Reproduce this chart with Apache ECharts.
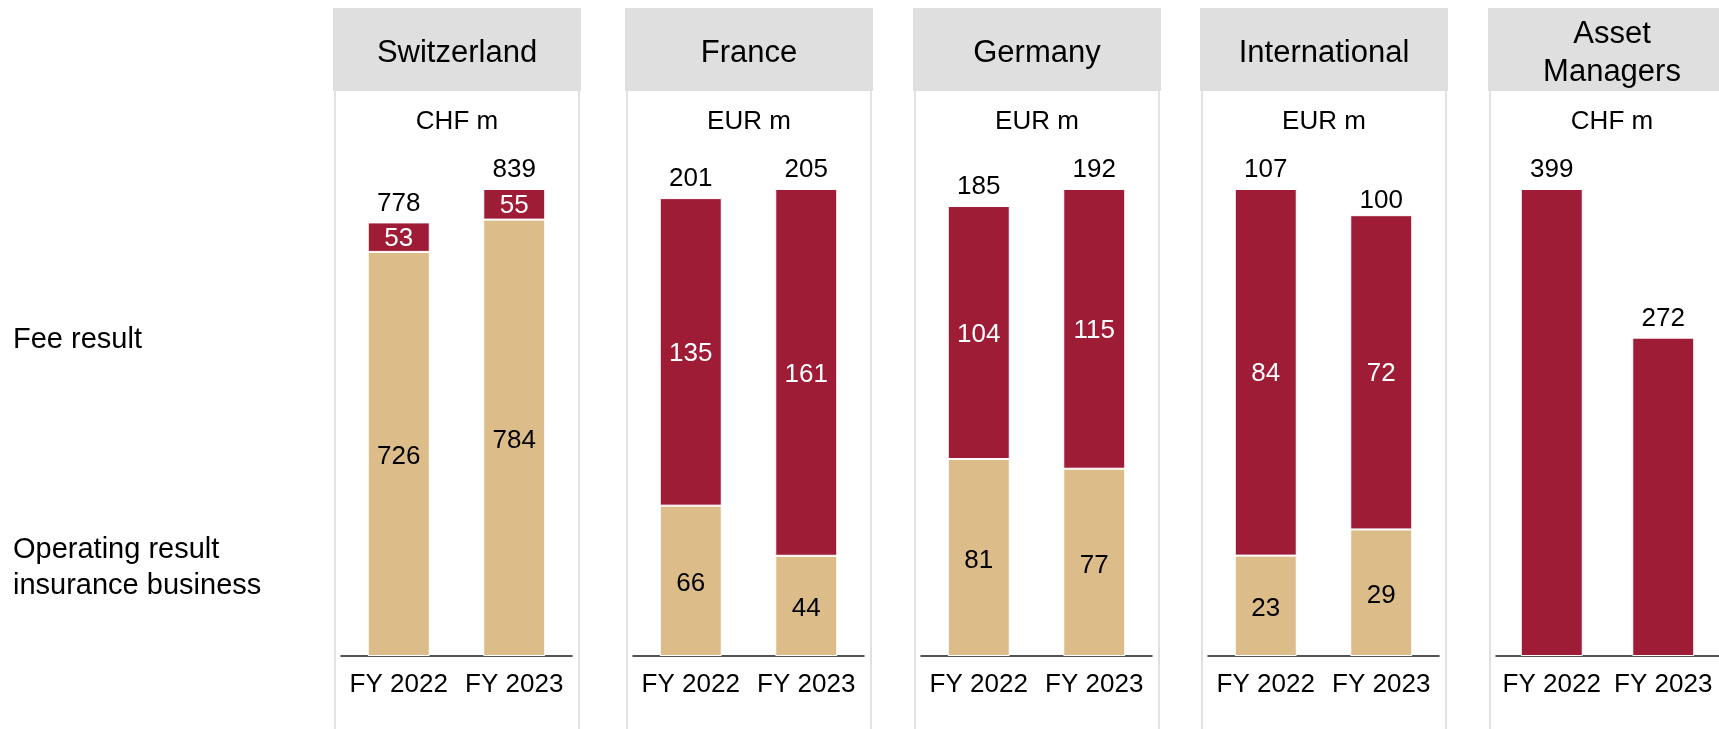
<!DOCTYPE html>
<html>
<head>
<meta charset="utf-8">
<script src="https://cdn.jsdelivr.net/npm/echarts@6/dist/echarts.min.js"></script>
<style>
  html, body { margin: 0; padding: 0; background: #ffffff; }
  #chart { width: 1719px; height: 729px; }
</style>
</head>
<body>
<div id="chart"></div>
<script>
// Segment results by business unit, FY 2022 vs FY 2023
const panels = ['Switzerland', 'France', 'Germany', 'International', 'Asset\nManagers'];
const units = ['CHF m', 'EUR m', 'EUR m', 'EUR m', 'CHF m'];
const years = ['FY 2022', 'FY 2023'];
const operatingResult = [[726, 784], [66, 44], [81, 77], [23, 29], [null, null]];
const feeResult = [[53, 55], [135, 161], [104, 115], [84, 72], [399, 272]];
const totals = [[778, 839], [201, 205], [185, 192], [107, 100], [399, 272]];
const rowLabels = ['Fee result', 'Operating result\ninsurance business'];

const FONT = '"Liberation Sans", Arial, Helvetica, sans-serif';
const RED = '#9f1c37';
const TAN = '#dcbd89';
const HEADER = '#dfdfdf';

// left edge of each panel header
const panelLeft = [333, 625, 913, 1200, 1488];
const gridTop = 189, gridBottomY = 656, plotWidth = 231;

const grids = [], xAxes = [], yAxes = [], series = [], graphics = [];

panels.forEach((name, i) => {
  const L = panelLeft[i];
  const yMax = Math.max(...totals[i]);

  // panel frame and header
  graphics.push({
    type: 'rect', z: 0,
    shape: { x: L + 2, y: 90, width: 244, height: 700 },
    style: { fill: 'none', stroke: '#e2e2e2', lineWidth: 2 }
  });
  graphics.push({
    type: 'rect', z: 1,
    shape: { x: L, y: 8, width: 248, height: 83 },
    style: { fill: HEADER }
  });
  graphics.push({
    type: 'text', z: 2, x: L + 124, y: 53,
    style: {
      text: name, font: '31px ' + FONT, fill: '#000', lineHeight: 38,
      align: 'center', verticalAlign: 'middle',
      textAlign: 'center', textVerticalAlign: 'middle'
    }
  });
  graphics.push({
    type: 'text', z: 2, x: L + 124, y: 122,
    style: {
      text: units[i], font: '26px ' + FONT, fill: '#000',
      align: 'center', verticalAlign: 'middle',
      textAlign: 'center', textVerticalAlign: 'middle'
    }
  });

  grids.push({ left: L + 8, top: gridTop, width: plotWidth, height: gridBottomY - gridTop, containLabel: false });
  xAxes.push({
    type: 'category', gridIndex: i, data: years,
    axisLine: { lineStyle: { color: '#1a1a1a', width: 1.5 } },
    axisTick: { show: false },
    axisLabel: { fontSize: 26, fontFamily: FONT, color: '#000', margin: 16, interval: 0 }
  });
  yAxes.push({
    type: 'value', gridIndex: i, min: 0, max: yMax, show: false,
    splitLine: { show: false }
  });

  const common = {
    type: 'bar', xAxisIndex: i, yAxisIndex: i, barWidth: 62, barGap: '-100%',
    animation: false
  };
  series.push(Object.assign({}, common, {
    name: 'Operating result insurance business',
    stack: 'seg' + i,
    data: operatingResult[i],
    itemStyle: { color: TAN, borderColor: '#ffffff', borderWidth: 1 },
    label: { show: true, position: 'inside', offset: [0, 3], fontSize: 26, fontFamily: FONT, color: '#000' }
  }));
  series.push(Object.assign({}, common, {
    name: 'Fee result',
    stack: 'seg' + i,
    data: feeResult[i],
    itemStyle: { color: RED, borderColor: '#ffffff', borderWidth: 1 },
    label: { show: operatingResult[i][0] !== null, position: 'inside', offset: [0, 2], fontSize: 26, fontFamily: FONT, color: '#fff' }
  }));
  series.push(Object.assign({}, common, {
    name: 'Total',
    data: totals[i],
    z: 1,
    silent: true,
    itemStyle: { color: 'rgba(0,0,0,0)' },
    label: { show: true, position: 'top', distance: 6, fontSize: 26, fontFamily: FONT, color: '#000' }
  }));
});

// row descriptions on the left
graphics.push({
  type: 'text', x: 13, y: 340,
  style: { text: rowLabels[0], font: '29px ' + FONT, fill: '#000', verticalAlign: 'middle', textVerticalAlign: 'middle' }
});
graphics.push({
  type: 'text', x: 13, y: 568,
  style: { text: rowLabels[1], font: '29px ' + FONT, fill: '#000', lineHeight: 36, verticalAlign: 'middle', textVerticalAlign: 'middle' }
});

const chart = echarts.init(document.getElementById('chart'), null, { renderer: 'canvas' });
chart.setOption({
  backgroundColor: '#ffffff',
  animation: false,
  textStyle: { fontFamily: FONT },
  grid: grids,
  xAxis: xAxes,
  yAxis: yAxes,
  series: series,
  graphic: { elements: graphics }
});
</script>
</body>
</html>
